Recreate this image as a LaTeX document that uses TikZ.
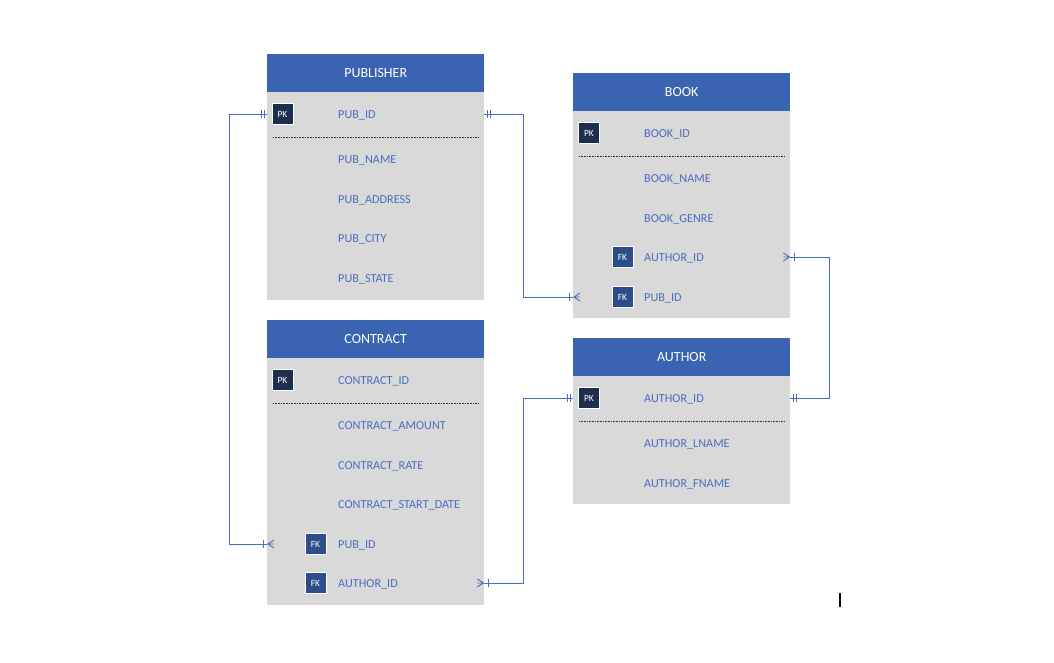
\documentclass[tikz,border=0pt]{standalone}
\usepackage{fontspec}
\setmainfont{Carlito}
\usetikzlibrary{calc}

\definecolor{hdrblue}{HTML}{3A63B1}
\definecolor{bodygray}{HTML}{D9D9D9}
\definecolor{fieldblue}{HTML}{4A6CC0}
\definecolor{pknavy}{HTML}{1E2E4E}
\definecolor{fkblue}{HTML}{2D4C8A}
\definecolor{linkblue}{HTML}{4A6CC0}

\tikzset{
  tablebody/.style={draw=none, fill=bodygray, minimum width=217pt, anchor=north west, inner sep=0pt},
  header/.style={draw=none, fill=hdrblue, minimum width=217pt, minimum height=38pt, anchor=north west,
    inner sep=0pt, text=white, font=\fontsize{14}{16}\selectfont},
  field/.style={anchor=base west, inner sep=0pt, text=fieldblue, font=\fontsize{12.2}{14}\selectfont,
    yshift=-4pt},
  badge/.style={minimum width=21pt, minimum height=21pt, inner sep=0pt, text=white,
    draw=white, line width=0.8pt, font=\fontsize{9.5}{10}\selectfont},
  pk/.style={badge, fill=pknavy},
  fk/.style={badge, fill=fkblue},
  divider/.style={draw=black!80, line width=0.7pt, dash pattern=on 0.8pt off 0.8pt},
  link/.style={draw=linkblue, line width=0.9pt},
  onemark/.pic={
    \draw[linkblue, line width=0.9pt] (-3,-4) -- (-3,4) (-6,-4) -- (-6,4);
  },
  manymark/.pic={
    \draw[linkblue, line width=0.9pt] (-4,-4) -- (-4,4);
    \draw[linkblue, line width=0.9pt] (7,-4) -- (1,0) -- (7,4) (0,0) -- (7,0);
  }
}

\begin{document}
\begin{tikzpicture}[x=1pt, y=-1pt]
\useasboundingbox (0,0) rectangle (1054,662);

% ---------- PUBLISHER ----------
\node[tablebody, minimum height=246pt] (publisher) at (267,54) {};
\node[header] (publisher-h) at (publisher.north west) {PUBLISHER};
\node[pk] (pub-pk) at (282.5,114) {PK};
\node[field] (pub-id) at (338,114) {PUB\_ID};
\draw[divider] (273,137) -- (479,137);
\node[field] (pub-name) at (338,159) {PUB\_NAME};
\node[field] (pub-address) at (338,199) {PUB\_ADDRESS};
\node[field] (pub-city) at (338,238) {PUB\_CITY};
\node[field] (pub-state) at (338,278) {PUB\_STATE};

% ---------- BOOK ----------
\node[tablebody, minimum height=245pt] (book) at (573,73) {};
\node[header] (book-h) at (book.north west) {BOOK};
\node[pk] (book-pk) at (589,133) {PK};
\node[field] (book-id) at (644,133) {BOOK\_ID};
\draw[divider] (579,156) -- (785,156);
\node[field] (book-name) at (644,178) {BOOK\_NAME};
\node[field] (book-genre) at (644,218) {BOOK\_GENRE};
\node[fk] (book-fk1) at (622.5,257) {FK};
\node[field] (book-author) at (644,257) {AUTHOR\_ID};
\node[fk] (book-fk2) at (622.5,297) {FK};
\node[field] (book-pub) at (644,297) {PUB\_ID};

% ---------- CONTRACT ----------
\node[tablebody, minimum height=285pt] (contract) at (267,320) {};
\node[header] (contract-h) at (contract.north west) {CONTRACT};
\node[pk] (ct-pk) at (282.5,380) {PK};
\node[field] (ct-id) at (338,380) {CONTRACT\_ID};
\draw[divider] (273,403) -- (479,403);
\node[field] (ct-amount) at (338,425) {CONTRACT\_AMOUNT};
\node[field] (ct-rate) at (338,465) {CONTRACT\_RATE};
\node[field] (ct-start) at (338,504) {CONTRACT\_START\_DATE};
\node[fk] (ct-fk1) at (315.5,544) {FK};
\node[field] (ct-pub) at (338,544) {PUB\_ID};
\node[fk] (ct-fk2) at (315.5,583) {FK};
\node[field] (ct-author) at (338,583) {AUTHOR\_ID};

% ---------- AUTHOR ----------
\node[tablebody, minimum height=166pt] (author) at (573,338) {};
\node[header] (author-h) at (author.north west) {AUTHOR};
\node[pk] (au-pk) at (589,398) {PK};
\node[field] (au-id) at (644,398) {AUTHOR\_ID};
\draw[divider] (579,421) -- (785,421);
\node[field] (au-lname) at (644,443) {AUTHOR\_LNAME};
\node[field] (au-fname) at (644,483) {AUTHOR\_FNAME};

% ---------- relationship lines ----------
\coordinate (leftbus) at (229,0);
\coordinate (midbus) at (523,0);
\coordinate (rightbus) at (829,0);

% PUBLISHER.PUB_ID -> CONTRACT.PUB_ID
\draw[link] (pub-pk -| publisher.west) -- (pub-pk -| leftbus) -- (ct-fk1 -| leftbus) -- (ct-fk1 -| contract.west);
\pic at (pub-pk -| publisher.west) {onemark};
\pic at (ct-fk1 -| contract.west) {manymark};

% PUBLISHER.PUB_ID -> BOOK.PUB_ID
\draw[link] (pub-pk -| publisher.east) -- (pub-pk -| midbus) -- (book-fk2 -| midbus) -- (book-fk2 -| book.west);
\pic[rotate=180] at (pub-pk -| publisher.east) {onemark};
\pic at (book-fk2 -| book.west) {manymark};

% AUTHOR.AUTHOR_ID -> BOOK.AUTHOR_ID
\draw[link] (au-pk -| author.east) -- (au-pk -| rightbus) -- (book-fk1 -| rightbus) -- (book-fk1 -| book.east);
\pic[rotate=180] at (au-pk -| author.east) {onemark};
\pic[rotate=180] at (book-fk1 -| book.east) {manymark};

% AUTHOR.AUTHOR_ID -> CONTRACT.AUTHOR_ID
\draw[link] (au-pk -| author.west) -- (au-pk -| midbus) -- (ct-fk2 -| midbus) -- (ct-fk2 -| contract.east);
\pic at (au-pk -| author.west) {onemark};
\pic[rotate=180] at (ct-fk2 -| contract.east) {manymark};

% text cursor
\draw[black, line width=1.1pt] (840,593) -- (840,607);
\end{tikzpicture}
\end{document}
